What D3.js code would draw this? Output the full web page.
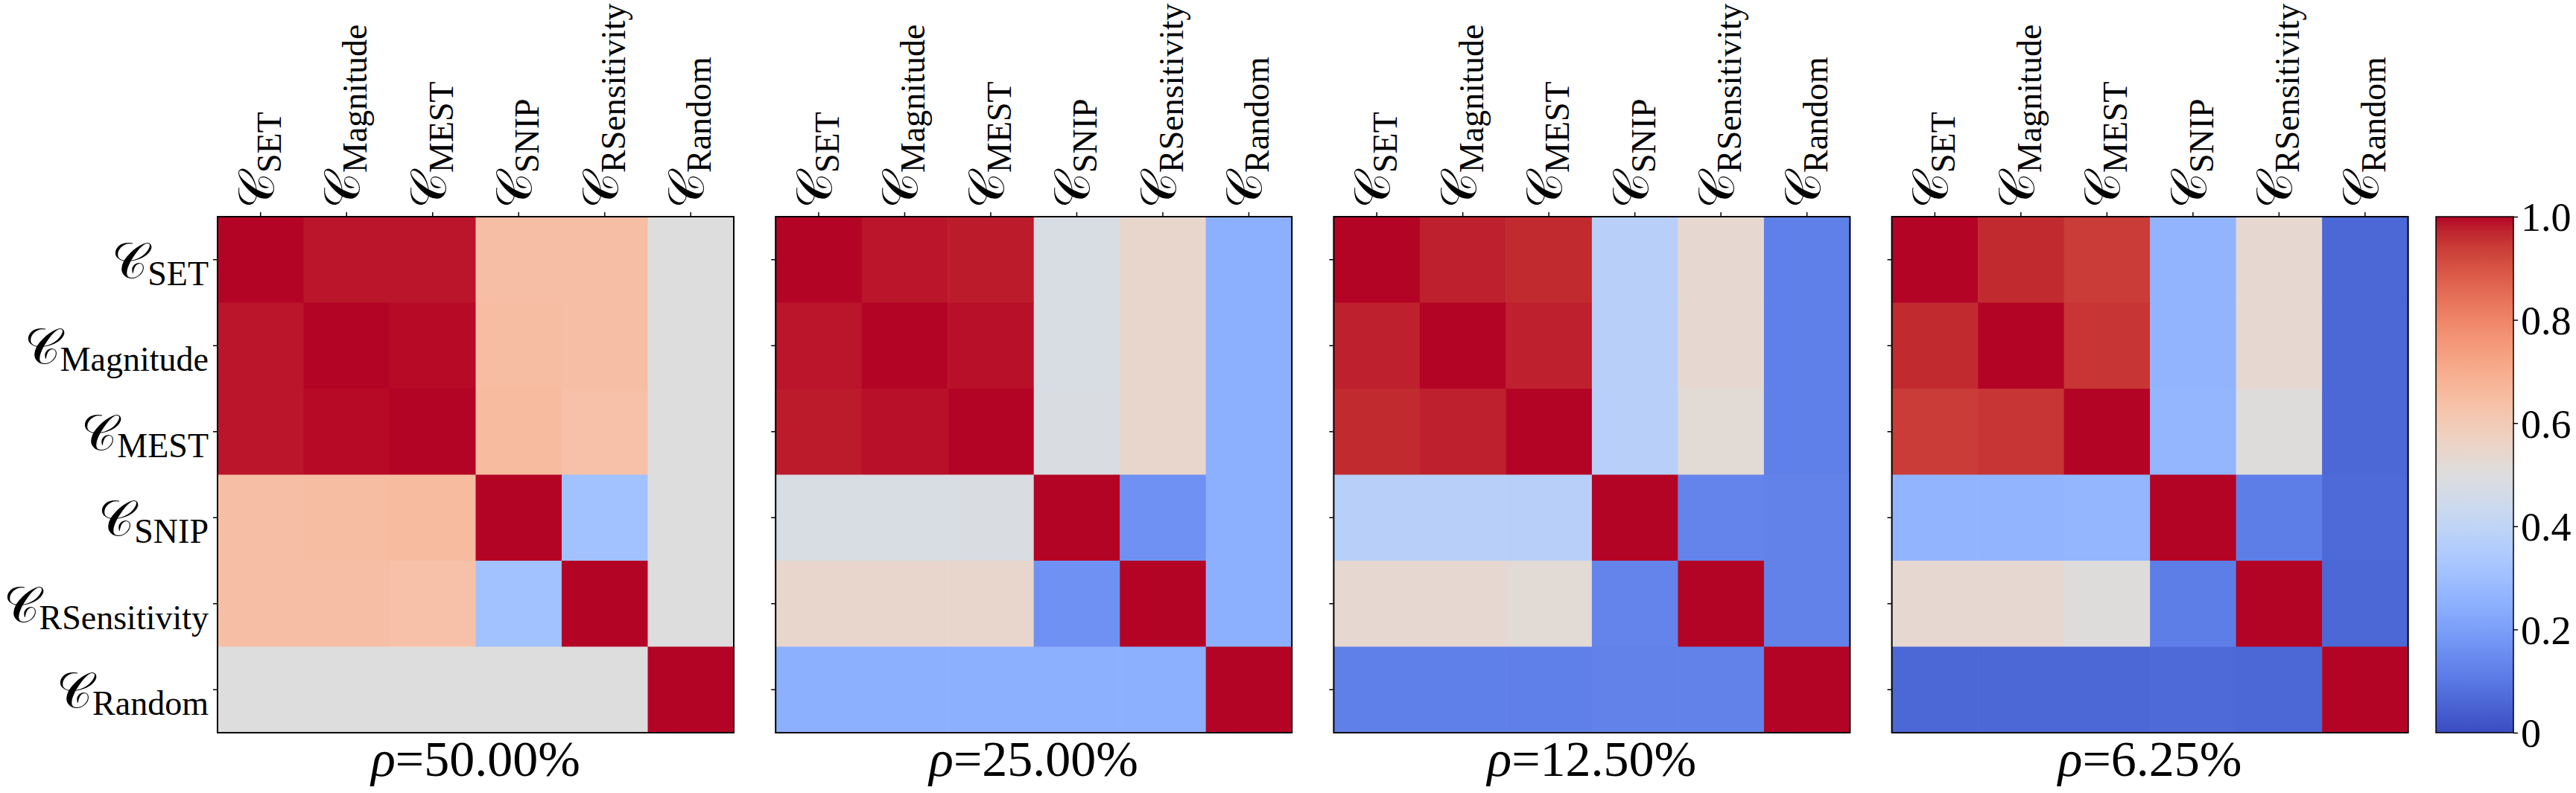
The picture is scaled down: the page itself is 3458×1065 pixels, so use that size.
<!DOCTYPE html>
<html>
<head>
<meta charset="utf-8">
<script src="https://cdn.jsdelivr.net/npm/d3@7"></script>
<style>
  html, body { margin: 0; padding: 0; background: #fff; }
  svg { display: block; }
  text { fill: #000; font-family: "Liberation Serif", serif; }
</style>
</head>
<body>
<div id="chart"></div>
<script>
// ---------- data ----------
const methods = ["SET", "Magnitude", "MEST", "SNIP", "RSensitivity", "Random"];
const rhoLabels = ["50.00", "25.00", "12.50", "6.25"];

// overlap matrices, rows/cols in the order of `methods`
const overlap50 = [
  [1.000, 0.985, 0.985, 0.645, 0.645, 0.500],
  [0.985, 1.000, 0.995, 0.650, 0.645, 0.500],
  [0.985, 0.995, 1.000, 0.655, 0.635, 0.500],
  [0.645, 0.650, 0.655, 1.000, 0.310, 0.500],
  [0.645, 0.645, 0.635, 0.310, 1.000, 0.500],
  [0.500, 0.500, 0.500, 0.500, 0.500, 1.000]
];
const overlap25 = [
  [1.000, 0.985, 0.980, 0.480, 0.545, 0.250],
  [0.985, 1.000, 0.990, 0.480, 0.545, 0.250],
  [0.980, 0.990, 1.000, 0.485, 0.545, 0.250],
  [0.480, 0.480, 0.485, 1.000, 0.165, 0.250],
  [0.545, 0.545, 0.545, 0.165, 1.000, 0.250],
  [0.250, 0.250, 0.250, 0.250, 0.250, 1.000]
];
const overlap12 = [
  [1.000, 0.975, 0.965, 0.375, 0.535, 0.120],
  [0.975, 1.000, 0.975, 0.375, 0.535, 0.120],
  [0.965, 0.975, 1.000, 0.375, 0.520, 0.120],
  [0.375, 0.375, 0.375, 1.000, 0.130, 0.125],
  [0.535, 0.535, 0.520, 0.130, 1.000, 0.125],
  [0.120, 0.120, 0.120, 0.125, 0.125, 1.000]
];
const overlap6 = [
  [1.000, 0.965, 0.940, 0.265, 0.535, 0.060],
  [0.965, 1.000, 0.950, 0.265, 0.535, 0.060],
  [0.940, 0.950, 1.000, 0.270, 0.505, 0.060],
  [0.265, 0.265, 0.270, 1.000, 0.115, 0.065],
  [0.535, 0.535, 0.505, 0.115, 1.000, 0.060],
  [0.060, 0.060, 0.060, 0.065, 0.060, 1.000]
];
const matrices = [overlap50, overlap25, overlap12, overlap6];
const colorbarTicks = [0, 0.2, 0.4, 0.6, 0.8, 1.0];

// matplotlib "coolwarm" (Moreland) colour stops
const coolwarmStops = [
  [59,76,192],[68,90,204],[77,104,215],[87,117,225],[98,130,234],[108,142,241],
  [119,154,247],[130,165,251],[141,176,254],[152,185,255],[163,194,255],[174,201,253],
  [184,208,249],[194,213,244],[204,217,238],[213,219,230],[221,221,221],[229,216,209],
  [236,211,197],[241,204,184],[245,196,172],[247,187,159],[247,177,147],[247,166,134],
  [244,154,123],[241,141,111],[236,127,99],[229,112,88],[222,96,77],[213,80,66],
  [203,62,56],[192,40,47],[180,4,38]
];

const color = d3.scaleLinear()
  .domain(coolwarmStops.map((d, i) => i / (coolwarmStops.length - 1)))
  .range(coolwarmStops.map(c => d3.rgb(c[0], c[1], c[2])))
  .interpolate(d3.interpolateRgb)
  .clamp(true);

// ---------- layout ----------
const W = 3458, H = 1065;
const plotTop = 291, size = 693;
const panelLeft0 = 292, panelStep = 749.2;
const tickLen = 6;
const mainSize = 66, subSize = 46, subShift = 10;

const svg = d3.select("#chart").append("svg")
  .attr("width", W)
  .attr("height", H);

svg.append("rect").attr("width", W).attr("height", H).attr("fill", "#fff");

const x = d3.scaleBand().domain(methods).range([0, size]);
const y = d3.scaleBand().domain(methods).range([0, size]);

// write "C_sub" into a text element
function mathLabel(sel, sub) {
  sel.append("tspan")
    .attr("font-size", mainSize)
    .attr("font-family", "DejaVu Sans")
    .text("\u{1D49E}");
  sel.append("tspan")
    .attr("font-size", subSize)
    .attr("font-family", "Liberation Serif")
    .attr("dy", subShift)
    .text(sub);
}

matrices.forEach((mat, p) => {
  const g = svg.append("g")
    .attr("transform", `translate(${panelLeft0 + p * panelStep},${plotTop})`);

  const cells = [];
  mat.forEach((row, i) => row.forEach((v, j) => cells.push({ r: methods[i], c: methods[j], v })));

  g.selectAll("rect.cell")
    .data(cells)
    .join("rect")
    .attr("class", "cell")
    .attr("x", d => x(d.c))
    .attr("y", d => y(d.r))
    .attr("width", x.bandwidth() + 0.5)
    .attr("height", y.bandwidth() + 0.5)
    .attr("fill", d => color(d.v));

  // top axis (ticks only, labels drawn below)
  const ax = g.append("g")
    .call(d3.axisTop(x).tickSize(tickLen).tickFormat("").tickSizeOuter(0));
  ax.select(".domain").remove();
  ax.selectAll("line").attr("stroke", "#000").attr("stroke-width", 1.5);

  const ay = g.append("g")
    .call(d3.axisLeft(y).tickSize(tickLen).tickFormat("").tickSizeOuter(0));
  ay.select(".domain").remove();
  ay.selectAll("line").attr("stroke", "#000").attr("stroke-width", 1.5);

  // column labels, rotated, reading upward from just above the ticks
  methods.forEach(m => {
    const t = g.append("text")
      .attr("transform", `translate(${x(m) + x.bandwidth() / 2},-11) rotate(-90)`)
      .attr("x", 0)
      .attr("y", 17)
      .attr("text-anchor", "start");
    mathLabel(t, m);
  });

  // row labels only on first panel
  if (p === 0) {
    methods.forEach(m => {
      const t = g.append("text")
        .attr("text-anchor", "end")
        .attr("x", -12)
        .attr("y", y(m) + y.bandwidth() / 2 + 24);
      mathLabel(t, m);
    });
  }

  // frame
  g.append("rect")
    .attr("width", size)
    .attr("height", size)
    .attr("fill", "none")
    .attr("stroke", "#000")
    .attr("stroke-width", 2);

  // subtitle
  const st = g.append("text")
    .attr("x", size / 2)
    .attr("y", 1042 - plotTop)
    .attr("text-anchor", "middle")
    .attr("font-size", 68)
    .attr("font-family", "Liberation Serif");
  st.append("tspan").attr("font-style", "italic").text("\u03C1");
  st.append("tspan").text(`=${rhoLabels[p]}%`);
});

// ---------- colorbar ----------
const cbX = 3270, cbW = 104;
const defs = svg.append("defs");
const grad = defs.append("linearGradient")
  .attr("id", "cw")
  .attr("x1", 0).attr("y1", 1).attr("x2", 0).attr("y2", 0);
grad.selectAll("stop")
  .data(d3.range(0, 1.0001, 1 / 64))
  .join("stop")
  .attr("offset", d => d)
  .attr("stop-color", d => color(d));

svg.append("rect")
  .attr("x", cbX).attr("y", plotTop)
  .attr("width", cbW).attr("height", size)
  .attr("fill", "url(#cw)")
  .attr("stroke", "#000")
  .attr("stroke-width", 1.5);

const cbScale = d3.scaleLinear().domain([0, 1]).range([size, 0]);
const cbAxis = svg.append("g")
  .attr("transform", `translate(${cbX + cbW},${plotTop})`)
  .call(d3.axisRight(cbScale)
    .tickValues(colorbarTicks)
    .tickSize(tickLen)
    .tickPadding(4)
    .tickFormat(d => d === 0 ? "0" : d.toFixed(1)));
cbAxis.select(".domain").remove();
cbAxis.selectAll("line").attr("stroke", "#000").attr("stroke-width", 1.5);
cbAxis.selectAll("text")
  .attr("font-size", 54)
  .attr("font-family", "Liberation Serif")
  .attr("dy", "0.35em");
</script>
</body>
</html>
